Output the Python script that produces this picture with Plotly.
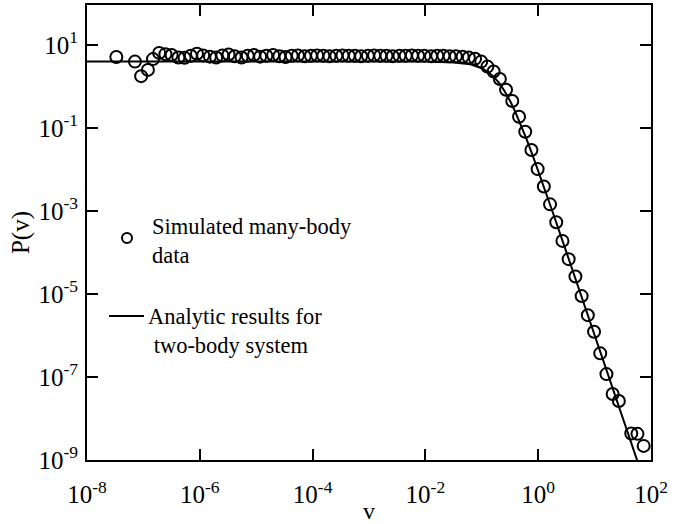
import plotly.graph_objects as go

# ---- data (log10 values) ----
sim_log_v = [-7.48, -7.15, -7.04, -6.92, -6.83, -6.72,
             -6.61, -6.50, -6.38, -6.27, -6.16, -6.05, -5.94, -5.82, -5.71, -5.60,
             -5.49, -5.38, -5.26, -5.15, -5.04, -4.93, -4.82, -4.70, -4.59, -4.48,
             -4.37, -4.26, -4.14, -4.03, -3.92, -3.81, -3.70, -3.58, -3.47, -3.36,
             -3.25, -3.14, -3.02, -2.91, -2.80, -2.69, -2.58, -2.46, -2.35, -2.24,
             -2.13, -2.02, -1.90, -1.79, -1.68, -1.57, -1.46, -1.34, -1.23, -1.12,
             -1.01, -0.90, -0.79, -0.68, -0.57, -0.46, -0.34, -0.23, -0.12, -0.01,
             0.10, 0.21, 0.32, 0.43, 0.54, 0.66, 0.77, 0.88, 0.99, 1.10,
             1.21, 1.32, 1.43, 1.65, 1.76, 1.87]
sim_log_p = [0.71, 0.60, 0.25, 0.40, 0.66, 0.81,
             0.78, 0.76, 0.70, 0.69, 0.74, 0.79, 0.75, 0.72, 0.70, 0.75,
             0.77, 0.73, 0.70, 0.74, 0.76, 0.72, 0.74, 0.76, 0.73, 0.71,
             0.74, 0.75, 0.73, 0.74, 0.75, 0.74, 0.73, 0.74, 0.75, 0.74,
             0.74, 0.73, 0.74, 0.75, 0.74, 0.74, 0.73, 0.74, 0.74, 0.75,
             0.74, 0.74, 0.73, 0.74, 0.74, 0.73, 0.73, 0.72, 0.70, 0.67,
             0.60, 0.48, 0.36, 0.18, -0.08, -0.35, -0.73, -1.09, -1.53, -1.99,
             -2.41, -2.84, -3.27, -3.72, -4.16, -4.58, -5.05, -5.51, -5.91, -6.43,
             -6.93, -7.41, -7.58, -8.36, -8.37, -8.66]

ana_log_v = [-8.0, -3.0, -2.0, -1.5, -1.2, -1.0, -0.9, -0.8, -0.7, -0.6, -0.5,
             -0.4, -0.3, -0.2, -0.1, 0.0, 0.25, 0.5, 1.0, 1.5, 1.76]
ana_log_p = [0.60, 0.60, 0.60, 0.58, 0.535, 0.44, 0.36, 0.25, 0.10, -0.10, -0.345,
             -0.63, -0.95, -1.29, -1.655, -2.03, -3.00, -3.99, -5.99, -7.99, -9.03]

x_tick_exp = [-8, -6, -4, -2, 0, 2]
y_tick_exp = [1, -1, -3, -5, -7, -9]

legend_sim = "Simulated many-body<br>data"
legend_ana = "Analytic results for<br>&nbsp;two-body system"

FONT = "Liberation Serif, Times New Roman, serif"

sim_v = [10 ** e for e in sim_log_v]
sim_p = [10 ** e for e in sim_log_p]
ana_v = [10 ** e for e in ana_log_v]
ana_p = [10 ** e for e in ana_log_p]

fig = go.Figure()
fig.add_trace(go.Scatter(x=ana_v, y=ana_p, mode="lines",
                         line=dict(color="black", width=2), showlegend=False))
fig.add_trace(go.Scatter(x=sim_v, y=sim_p, mode="markers",
                         marker=dict(symbol="circle-open", size=12, color="black",
                                     line=dict(width=2, color="black")),
                         showlegend=False))

axis_common = dict(type="log", showline=True, linecolor="black", linewidth=2,
                   mirror="ticks", ticks="inside", ticklen=11, tickwidth=2,
                   tickcolor="black", showgrid=False, zeroline=False,
                   automargin=False,
                   tickfont=dict(family=FONT, size=25, color="black"))

fig.update_xaxes(range=[-8, 2],
                 tickvals=[10 ** e for e in x_tick_exp],
                 ticktext=[f"10<sup>{e}</sup>" for e in x_tick_exp],
                 ticklabelstandoff=11,
                 title=dict(text="v", font=dict(family=FONT, size=24, color="black"),
                            standoff=0),
                 **axis_common)
fig.update_yaxes(range=[-9, 1.964],
                 tickvals=[10 ** e for e in y_tick_exp],
                 ticktext=[f"10<sup>{e}</sup>" for e in y_tick_exp],
                 ticklabelstandoff=2,
                 title=dict(text="P(v)", font=dict(family=FONT, size=25, color="black"),
                            standoff=2),
                 **axis_common)

# legend drawn manually
fig.add_shape(type="circle", xref="paper", yref="paper",
              xsizemode="pixel", ysizemode="pixel",
              xanchor=(127 - 87) / 564, yanchor=(460 - 238) / 455,
              x0=-5, x1=5, y0=-5, y1=5,
              line=dict(color="black", width=2))
fig.add_shape(type="line", xref="paper", yref="paper",
              x0=(109 - 87) / 564, x1=(144 - 87) / 564,
              y0=(460 - 316) / 455, y1=(460 - 316) / 455,
              line=dict(color="black", width=2))
fig.add_annotation(xref="paper", yref="paper", x=(150 - 87) / 564, y=(460 - 241) / 455,
                   xanchor="left", yanchor="middle", align="left", showarrow=False,
                   text=legend_sim, font=dict(family=FONT, size=22.5, color="black"))
fig.add_annotation(xref="paper", yref="paper", x=(146 - 87) / 564, y=(460 - 331) / 455,
                   xanchor="left", yanchor="middle", align="left", showarrow=False,
                   text=legend_ana, font=dict(family=FONT, size=22.5, color="black"))

fig.update_layout(width=690, height=524,
                  margin=dict(l=87, r=39, t=5, b=64),
                  paper_bgcolor="white", plot_bgcolor="white",
                  font=dict(family=FONT, color="black"))

fig.write_html("out.html")
